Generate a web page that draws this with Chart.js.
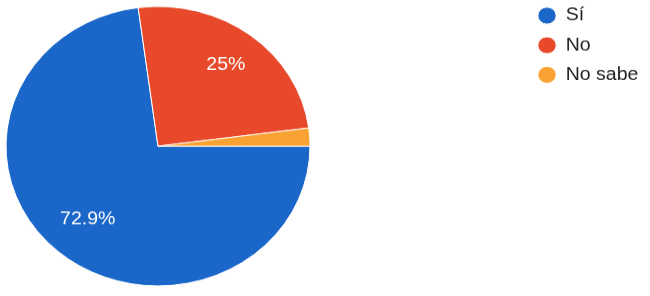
<!DOCTYPE html>
<html>
<head>
<meta charset="utf-8">
<script src="https://cdn.jsdelivr.net/npm/chart.js@4"></script>
<style>
html, body { margin: 0; padding: 0; background: #fff; overflow: hidden; }
canvas { display: block; }
</style>
</head>
<body>
<!-- drawn 322 tall, shown 296 tall: the reference pie is slightly squashed -->
<canvas id="pie" width="650" height="322" style="width:650px;height:296px"></canvas>
<script>
const labels = ['Sí', 'No', 'No sabe'];
const counts = [35, 12, 1];
const colors = ['#1a66c9', '#e8492a', '#fba234'];

const fontFamily = 'Arial, "Liberation Sans", sans-serif';
const total = counts.reduce((a, b) => a + b, 0);

function pct(v) {
  return (Math.round(v / total * 1000) / 10) + '%';
}

// percentage text inside the big slices
const sliceText = {
  id: 'sliceText',
  afterDatasetsDraw(chart) {
    const ctx = chart.ctx;
    const meta = chart.getDatasetMeta(0);
    ctx.save();
    ctx.fillStyle = '#fff';
    ctx.font = '19.5px ' + fontFamily;
    ctx.textAlign = 'center';
    ctx.textBaseline = 'middle';
    meta.data.forEach((arc, i) => {
      if (counts[i] / total < 0.05) return;
      const p = arc.getProps(['x', 'y', 'startAngle', 'endAngle', 'outerRadius'], true);
      const text = pct(counts[i]);
      const mid = (p.startAngle + p.endAngle) / 2;
      const r = p.outerRadius * 0.81 - ctx.measureText(text).width * 0.3;
      ctx.fillText(text, p.x + Math.cos(mid) * r, p.y + Math.sin(mid) * r);
    });
    ctx.restore();
  }
};

// legend sits far right of the pie and a bit above its top edge
const legendMove = {
  id: 'legendMove',
  afterLayout(chart) {
    const lg = chart.legend;
    lg.left += 209.3;
    lg.right += 209.3;
    lg.top -= 12;
    lg.bottom -= 12;
  }
};

new Chart(document.getElementById('pie'), {
  type: 'pie',
  data: {
    labels: labels,
    datasets: [{
      data: counts,
      backgroundColor: colors,
      borderColor: '#fff',
      borderWidth: 1
    }]
  },
  options: {
    responsive: false,
    animation: false,
    rotation: 90,
    layout: { padding: { left: 0, right: 210.9, top: 6.5, bottom: 10.5 } },
    plugins: {
      legend: {
        position: 'right',
        align: 'start',
        labels: {
          usePointStyle: true,
          pointStyle: 'circle',
          boxWidth: 18,
          boxHeight: 13,
          padding: 12.7,
          color: '#222',
          font: { size: 19.5, family: fontFamily }
        }
      },
      tooltip: { enabled: false }
    }
  },
  plugins: [sliceText, legendMove]
});
</script>
</body>
</html>
